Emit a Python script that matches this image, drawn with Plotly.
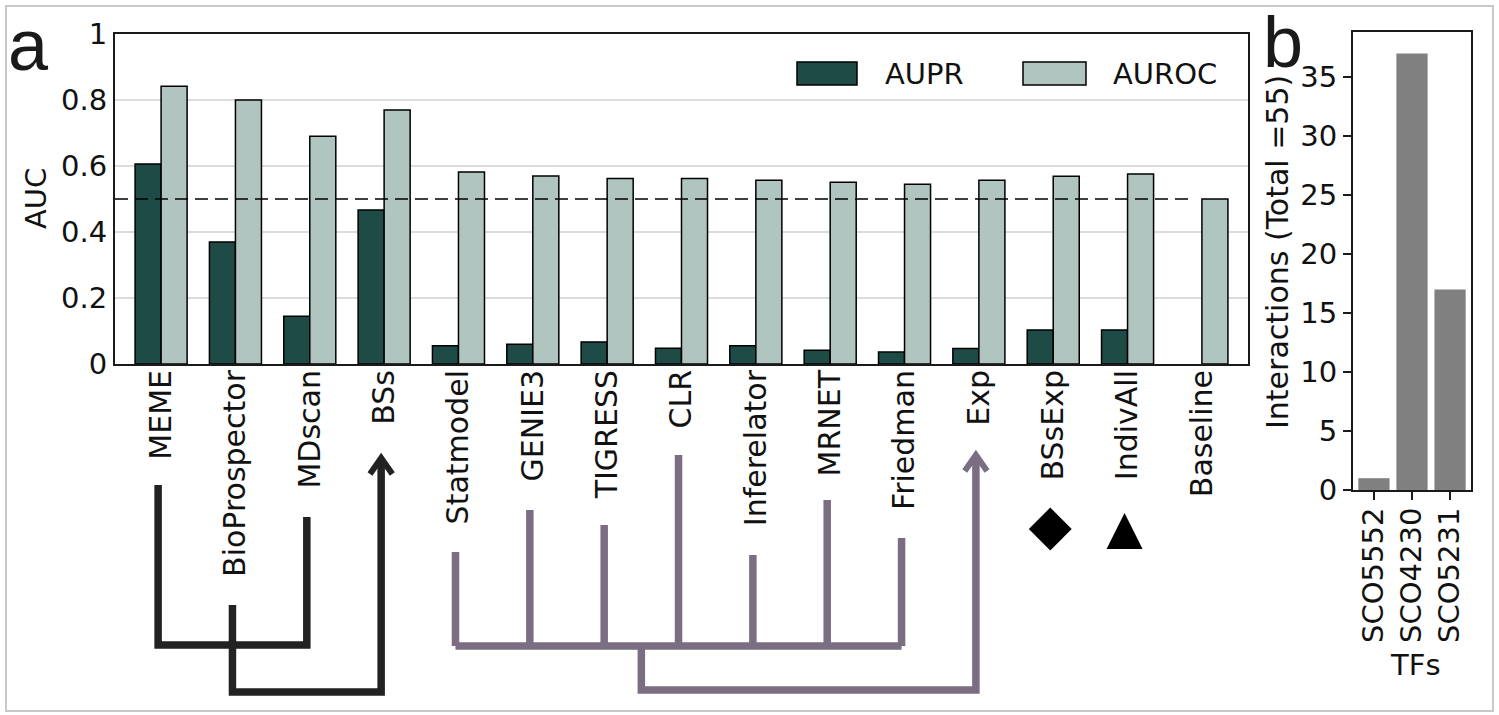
import plotly.graph_objects as go

# ---------------- data ----------------
methods = ["MEME", "BioProspector", "MDscan", "BSs", "Statmodel", "GENIE3", "TIGRESS",
           "CLR", "Inferelator", "MRNET", "Friedman", "Exp", "BSsExp", "IndivAll", "Baseline"]
aupr = [0.606, 0.370, 0.145, 0.467, 0.055, 0.060, 0.067, 0.048, 0.055, 0.042, 0.036,
        0.047, 0.103, 0.103, 0.0]
auroc = [0.842, 0.800, 0.690, 0.770, 0.582, 0.570, 0.562, 0.562, 0.557, 0.551, 0.545,
         0.557, 0.569, 0.576, 0.500]
auc_ticks = [0, 0.2, 0.4, 0.6, 0.8, 1]
auc_ticktext = ["0", "0.2", "0.4", "0.6", "0.8", "1"]
random_level = 0.5

tfs = ["SCO5552", "SCO4230", "SCO5231"]
interactions = [1, 37, 17]
count_ticks = [0, 5, 10, 15, 20, 25, 30, 35]

# tree schematic below the bar chart (x = method index, y = depth below axis)
black_pair = [0, 2]               # MEME, MDscan joined
black_pair_tops = [121, 153]
black_join = 281
black_link_from, black_link_top = 1, 241   # BioProspector
black_target, black_target_tip = 3, 94      # BSs (arrow)
black_low = 328

purple_leaves = [4, 5, 6, 7, 8, 9, 10]
purple_tops = [188, 146, 161, 91, 191, 136, 174]
purple_join = 282
purple_link_from = 6.5
purple_low = 326
purple_target, purple_target_tip = 11, 91    # Exp (arrow)

marker_idx = [12, 13]
marker_depth = [165, 149]
marker_symbols = ["diamond", "arrow-up"]
marker_sizes = [33, 36]

# ---------------- style ----------------
W, H = 1499, 715
FONT = "DejaVu Sans"
C_AUPR = "#1e4b45"
C_AUROC = "#b0c4c0"
C_BLACK = "#222222"
C_PURPLE = "#7b6e82"
TXT = "#111111"


def px(x):
    return x / W


def py(y):
    return 1 - y / H


xl_dom = [px(115), px(1248)]
yl_dom = [py(364), py(34)]
xr_dom = [px(1353), px(1471)]
yr_dom = [py(490), py(31.7)]
tree_dom = [0, py(364)]
x_range = [-0.62, len(methods) - 1 + 0.62]
shift = -0.04

fig = go.Figure()

edge_w = [0 if v == 0 else 1.5 for v in aupr]
fig.add_trace(go.Bar(x=list(range(len(methods))), y=aupr, name="AUPR",
                     width=0.35, offset=-0.35,
                     marker=dict(color=C_AUPR, line=dict(color="black", width=edge_w)),
                     xaxis="x", yaxis="y", showlegend=False))
fig.add_trace(go.Bar(x=list(range(len(methods))), y=auroc, name="AUROC",
                     width=0.35, offset=0,
                     marker=dict(color=C_AUROC, line=dict(color="black", width=1.5)),
                     xaxis="x", yaxis="y", showlegend=False))
fig.add_trace(go.Bar(x=tfs, y=interactions, width=0.82,
                     marker=dict(color="#808080", line=dict(width=0)),
                     xaxis="x2", yaxis="y2", showlegend=False))


def seg_trace(xs, ys, color, width):
    return go.Scatter(x=[v + shift if v is not None else None for v in xs], y=ys,
                      mode="lines", line=dict(color=color, width=width),
                      xaxis="x3", yaxis="y3", showlegend=False, hoverinfo="skip")


# black tree
bx = [black_pair[0], black_pair[0], black_pair[1], black_pair[1], None,
      black_link_from, black_link_from, black_target, black_target]
by = [black_pair_tops[0], black_join, black_join, black_pair_tops[1], None,
      black_link_top, black_low, black_low, black_target_tip + 2]
fig.add_trace(seg_trace(bx, by, C_BLACK, 7.5))
fig.add_trace(seg_trace([black_target - 0.15, black_target, black_target + 0.15],
                        [black_target_tip + 16, black_target_tip, black_target_tip + 16],
                        C_BLACK, 6))

# purple tree
pxs, pys = [], []
for i, t in zip(purple_leaves, purple_tops):
    pxs += [i, i, None]
    pys += [t, purple_join, None]
pxs += [purple_leaves[0], purple_leaves[-1], None,
        purple_link_from, purple_link_from, purple_target, purple_target]
pys += [purple_join, purple_join, None,
        purple_join, purple_low, purple_low, purple_target_tip + 2]
fig.add_trace(seg_trace(pxs, pys, C_PURPLE, 7.5))
fig.add_trace(seg_trace([purple_target - 0.15, purple_target, purple_target + 0.15],
                        [purple_target_tip + 16, purple_target_tip, purple_target_tip + 16],
                        C_PURPLE, 6))

for i, d, s, sz in zip(marker_idx, marker_depth, marker_symbols, marker_sizes):
    fig.add_trace(go.Scatter(x=[i + shift], y=[d], mode="markers",
                             marker=dict(symbol=s, size=sz, color="black", line=dict(width=0)),
                             xaxis="x3", yaxis="y3", showlegend=False, hoverinfo="skip"))

shapes = [
    dict(type="line", xref="x", yref="y", x0=x_range[0], x1=13.84,
         y0=random_level, y1=random_level,
         line=dict(color="black", width=1.6, dash="13px,7px"), layer="above"),
    # legend patches
    dict(type="rect", xref="paper", yref="paper", x0=px(797), x1=px(857), y0=py(85), y1=py(62),
         fillcolor=C_AUPR, line=dict(color="black", width=1.5)),
    dict(type="rect", xref="paper", yref="paper", x0=px(1023), x1=px(1086), y0=py(85), y1=py(62),
         fillcolor=C_AUROC, line=dict(color="black", width=1.5)),
    # outer frame
    dict(type="rect", xref="paper", yref="paper", x0=px(6), x1=px(1493), y0=py(711), y1=py(6),
         line=dict(color="#c8c8c8", width=2), layer="below"),
]

annotations = [
    dict(text="AUPR", x=px(883), y=py(74), xref="paper", yref="paper", xanchor="left",
         yanchor="middle", showarrow=False, font=dict(family=FONT, size=29, color=TXT)),
    dict(text="AUROC", x=px(1111), y=py(74), xref="paper", yref="paper", xanchor="left",
         yanchor="middle", showarrow=False, font=dict(family=FONT, size=29, color=TXT)),
    dict(text="AUC", x=px(36), y=py(199), xref="paper", yref="paper", textangle=-90,
         xanchor="center", yanchor="middle", showarrow=False,
         font=dict(family=FONT, size=29, color=TXT)),
    dict(text="Interactions (Total =55)", x=px(1277), y=py(252), xref="paper", yref="paper",
         textangle=-90, xanchor="center", yanchor="middle", showarrow=False,
         font=dict(family=FONT, size=30, color=TXT)),
    dict(text="TFs", x=px(1415), y=py(665), xref="paper", yref="paper",
         xanchor="center", yanchor="middle", showarrow=False,
         font=dict(family=FONT, size=29, color=TXT)),
    dict(text="a", x=px(28), y=py(45), xref="paper", yref="paper",
         xanchor="center", yanchor="middle", showarrow=False,
         font=dict(family="Liberation Sans", size=72, color="#1a1a1a")),
    dict(text="b", x=px(1283), y=py(42), xref="paper", yref="paper",
         xanchor="center", yanchor="middle", showarrow=False,
         font=dict(family="Liberation Sans", size=72, color="#1a1a1a")),
]

axis_font = dict(family=FONT, size=29, color=TXT)
cat_font = dict(family=FONT, size=30, color=TXT)

fig.update_layout(
    width=W, height=H,
    margin=dict(l=0, r=0, t=0, b=0),
    paper_bgcolor="white", plot_bgcolor="white",
    barmode="overlay",
    showlegend=False,
    font=dict(family=FONT, color=TXT),
    shapes=shapes,
    annotations=annotations,
    xaxis=dict(domain=xl_dom, anchor="y", range=x_range,
               tickmode="array", tickvals=list(range(len(methods))), ticktext=methods,
               tickangle=-90, ticks="", showgrid=False, zeroline=False,
               showline=True, mirror=True, linecolor="#1a1a1a", linewidth=2,
               ticklabelstandoff=-8,
               tickfont=cat_font, automargin=False),
    yaxis=dict(domain=yl_dom, anchor="x", range=[0, 1],
               tickmode="array", tickvals=auc_ticks, ticktext=auc_ticktext,
               ticks="", showgrid=True, gridcolor="#dcdcdc", gridwidth=1.5, zeroline=False,
               showline=True, mirror=True, linecolor="#1a1a1a", linewidth=2,
               tickfont=axis_font, automargin=False),
    xaxis2=dict(domain=xr_dom, anchor="y2", range=[-0.55, 2.55], type="category",
                tickangle=-90, ticks="outside", ticklen=8, tickwidth=1.5, tickcolor="#1a1a1a",
                showgrid=False, zeroline=False,
                showline=True, mirror=True, linecolor="#1a1a1a", linewidth=2,
                ticklabelstandoff=-4,
                tickfont=axis_font, automargin=False),
    yaxis2=dict(domain=yr_dom, anchor="x2", range=[0, 38.85],
                tickmode="array", tickvals=count_ticks,
                ticks="outside", ticklen=8, tickwidth=1.5, tickcolor="#1a1a1a",
                showgrid=False, zeroline=False,
                showline=True, mirror=True, linecolor="#1a1a1a", linewidth=2,
                tickfont=axis_font, automargin=False),
    xaxis3=dict(domain=xl_dom, anchor="y3", range=x_range, visible=False,
                fixedrange=True),
    yaxis3=dict(domain=tree_dom, anchor="x3", range=[351, 0], visible=False,
                fixedrange=True),
)

fig.write_html("out.html", config={"displayModeBar": False},
               post_script="document.body.style.margin='0px';")
